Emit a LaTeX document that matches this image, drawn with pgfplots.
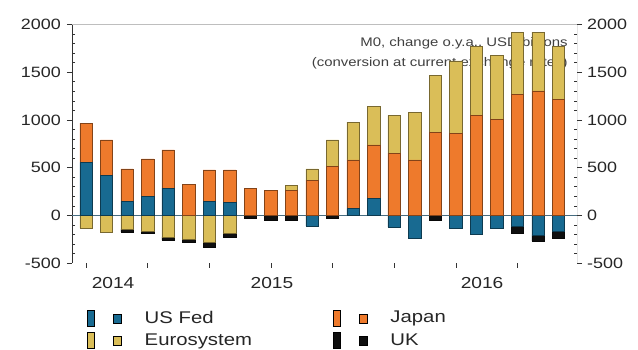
\documentclass[border=0pt]{standalone}
\usepackage{pgfplots}
\pgfplotsset{compat=1.18}
\usepackage{pgfplotstable}
\usepackage{fontspec}
\setmainfont{Liberation Sans}[FakeStretch=1.2]

\definecolor{fedblue}{RGB}{24,106,145}
\definecolor{japorange}{RGB}{238,122,44}
\definecolor{eurogold}{RGB}{218,190,88}
\definecolor{ukblack}{RGB}{15,15,15}
\definecolor{zeroline}{RGB}{70,108,128}
\definecolor{frametop}{RGB}{190,190,190}

% M0 change over a year, USD billions; positive and negative parts stacked apart
\pgfplotstableread{
idx fedpos japan europos euroneg fedneg ukneg
0   556  410  0    -135  0    0
1   416  375  0    -181  0    0
2   145  341  0    -145  0    -29
3   198  394  0    -163  0    -28
4   286  400  0    -226  0    -35
5   0    328  0    -251  0    -35
6   145  331  0    -286  0    -53
7   135  341  0    -191  0    -35
8   0    286  0    0     0    -35
9   0    265  0    0     0    -50
10  0    265  45   0     0    -55
11  0    370  116  0     -110 0
12  0    510  281  0     0    -33
13  70   511  396  0     0    0
14  181  558  403  0     0    0
15  0    651  396  0     -125 0
16  0    581  501  0     -240 0
17  0    872  596  0     0    -48
18  0    861  759  0     -135 0
19  0    1047 720  0     -198 0
20  0    1002 677  0     -133 0
21  0    1265 655  0     -110 -80
22  0    1303 617  0     -205 -65
23  0    1213 554  0     -165 -75
}\mzero

\pgfplotsset{
  m0base/.style={
    at={(72bp,87bp)}, anchor=south west, scale only axis,
    width=505bp, height=238.5bp,
    xmin=-0.68, xmax=23.9, ymin=-500, ymax=2000,
    ybar stacked, bar width=0.6,
    axis line style={draw=none},
    ytick={-500,0,...,2000}, minor y tick num=4,
    tick align=outside,
    major tick length=5bp, minor tick length=-3bp,
    tick style={black!80, line width=0.5bp},
    scaled y ticks=false,
    /pgf/number format/assume math mode=true,
    /pgf/number format/1000 sep={},
    ticklabel style={font=\fontsize{15}{15}\selectfont, text=black!85},
  },
  seg/.style={fill=#1, draw=#1!55!black, line width=0.5bp},
  twobox/.style={legend image code/.code={
      \fill[##1] (0bp,-8bp) rectangle (7bp,8bp);
      \fill[##1] (26bp,-5bp) rectangle (34bp,4bp);}},
}

\begin{document}
\begin{tikzpicture}
\path[use as bounding box] (0,0) rectangle (638bp,350bp);

% negative parts, and the right-hand value axis
\begin{axis}[m0base,
  axis x line=none, axis y line*=right,
  yticklabel style={inner sep=0pt, anchor=west, xshift=5bp},
]
\addplot[seg=eurogold] table[x=idx, y=euroneg] {\mzero};
\addplot[seg=fedblue] table[x=idx, y=fedneg] {\mzero};
\addplot[seg=ukblack] table[x=idx, y=ukneg] {\mzero};
\end{axis}

% positive parts, left axis, frame, note and legend
\begin{axis}[m0base,
  xtick={0,3,...,21}, xticklabels={},
  xtick pos=left, ytick pos=left,
  yticklabel style={inner sep=0pt, anchor=east, xshift=-6bp},
  extra x ticks={1.32,9.05,19.28},
  extra x tick labels={2014,2015,2016},
  extra x tick style={major tick length=0pt,
    tick label style={font=\fontsize{16}{16}\selectfont, inner sep=0pt, anchor=north, yshift=-14bp}},
  legend columns=2,
  legend cell align=left,
  legend style={at={(axis description cs:0.03,-0.195)}, anchor=north west,
    draw=none, fill=none, inner sep=0pt,
    nodes={inner sep=0pt, font=\fontsize{17}{17}\selectfont, text=black!85},
    row sep=6bp,
    /tikz/every odd column/.append style={column sep=23bp},
    /tikz/every even column/.append style={column sep=81bp}},
]
\addlegendimage{twobox, fill=fedblue}
\addlegendentry{US Fed}
\addlegendimage{twobox, fill=japorange}
\addlegendentry{Japan}
\addlegendimage{twobox, fill=eurogold}
\addlegendentry{Eurosystem}
\addlegendimage{twobox, fill=ukblack}
\addlegendentry{UK}

\addplot[seg=fedblue] table[x=idx, y=fedpos] {\mzero};
\addplot[seg=japorange] table[x=idx, y=japan] {\mzero};
\addplot[seg=eurogold] table[x=idx, y=europos] {\mzero};

\draw[zeroline, line width=1.3bp] (axis cs:-0.68,0) -- (axis cs:23.9,0);
\draw[frametop, line width=1.8bp] (rel axis cs:0,1) -- (rel axis cs:1,1);
\draw[black!80, line width=0.6bp] (rel axis cs:0,1) -- (rel axis cs:0,0)
  -- (rel axis cs:1,0) -- (rel axis cs:1,1);

\node[anchor=north east, align=right, inner sep=0pt,
  font=\fontsize{12.5}{20}\selectfont, text=black!75]
  at (axis description cs:0.982,0.945)
  {M0, change o.y.a., USD billions\\(conversion at current exchange rates)};
\end{axis}
\end{tikzpicture}
\end{document}
